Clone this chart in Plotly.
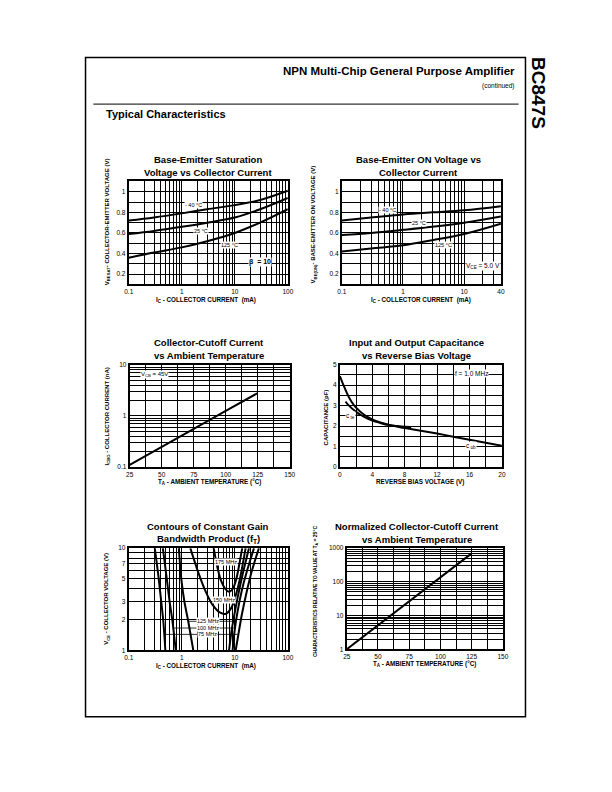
import numpy as np
import plotly.graph_objects as go

W, H = 612, 792
FONT = "Liberation Sans"

# ---------------- data ----------------
# 1: Base-Emitter saturation voltage vs collector current
vsat_ic = [0.1, 0.3, 1, 3, 10, 30, 100]
vsat_m40 = [0.72, 0.75, 0.79, 0.83, 0.87, 0.92, 1.01]
vsat_25 = [0.59, 0.62, 0.66, 0.70, 0.75, 0.83, 0.94]
vsat_125 = [0.36, 0.41, 0.46, 0.52, 0.60, 0.70, 0.83]

# 2: Base-Emitter ON voltage vs collector current
von_ic = [0.1, 0.3, 1, 3, 10, 40]
von_m40 = [0.72, 0.75, 0.78, 0.80, 0.82, 0.86]
von_25 = [0.58, 0.60, 0.63, 0.66, 0.70, 0.76]
von_125 = [0.42, 0.45, 0.48, 0.53, 0.59, 0.69]

# 3: Collector-cutoff current vs ambient temperature
icbo_t = [25, 50, 75, 100, 125]
icbo_na = [0.11, 0.25, 0.55, 1.25, 2.8]

# 4: Capacitance vs reverse bias
cob_v = [0, 0.5, 1, 1.5, 2, 3, 4, 5, 6, 7, 8, 10, 12, 14, 16, 18, 20]
cob_pf = [4.45, 3.95, 3.5, 3.15, 2.9, 2.55, 2.33, 2.18, 2.07, 1.98, 1.9, 1.77, 1.63, 1.48, 1.33, 1.18, 1.03]
cte_v = [0.7, 1, 2, 3, 4, 5, 6, 7, 8, 8.8]
cte_pf = [3.2, 3.05, 2.7, 2.45, 2.27, 2.15, 2.05, 2.0, 1.96, 1.95]

# 5: Contours of constant fT (Ic in mA, Vce in V)
ft75_l_ic = [0.31, 0.36, 0.41, 0.45, 0.49]
ft75_l_v = [10, 5.5, 3.0, 1.9, 1]
ft100_l_ic = [0.44, 0.51, 0.59, 0.67, 0.77]
ft100_l_v = [10, 5.5, 3.0, 1.9, 1]
ft125_l_ic = [0.88, 0.98, 1.12, 1.33, 1.65]
ft125_l_v = [10, 5.0, 3.0, 1.9, 1]
ft150_ic = [1.45, 2.0, 2.8, 3.8, 5.2, 6.8, 8.6, 10.5, 12.5, 16.0]
ft150_v = [10, 6, 3.8, 2.8, 2.35, 2.28, 2.6, 3.5, 5.0, 10]
ft175_ic = [4.0, 4.6, 5.5, 6.6, 7.8, 9.2, 10.7, 12.2, 13.8]
ft175_v = [10, 6.8, 4.8, 4.0, 3.75, 4.0, 5.0, 7.0, 10]
ft125_r_ic = [7.8, 8.6, 9.6, 11.2, 14.0, 18.5]
ft125_r_v = [1, 1.5, 2.1, 3.2, 5.5, 10]
ft100_r_ic = [9.1, 10.0, 11.3, 13.5, 17.0, 23.0]
ft100_r_v = [1, 1.6, 2.4, 3.8, 6.0, 10]
ft75_r_ic = [10.4, 11.7, 13.5, 16.5, 21.0, 28.5]
ft75_r_v = [1, 1.43, 2.2, 3.6, 6.0, 10]

# 6: Normalized collector-cutoff current
norm_t = [25, 50, 75, 100, 125]
norm_val = [1, 5.1, 26, 136, 700]

# tick / grid definitions
log_decade = lambda a, b: [m * 10 ** d for d in range(a, b) for m in range(1, 10)] + [10 ** b]
grid_ic100 = log_decade(-1, 2)
lab_ic100 = {0.1: "0.1", 1: "1", 10: "10", 100: "100"}
grid_ic40 = [g for g in log_decade(-1, 2) if g <= 40]
lab_ic40 = {0.1: "0.1", 1: "1", 10: "10", 40: "40"}
grid_v11 = [round(0.1 * i, 1) for i in range(1, 12)]
lab_v11 = {0.2: "0.2", 0.4: "0.4", 0.6: "0.6", 0.8: "0.8", 1.0: "1"}
grid_temp = [25 + 12.5 * i for i in range(11)]
lab_temp = {25: "25", 50: "50", 75: "75", 100: "100", 125: "125", 150: "150"}
grid_na = log_decade(-1, 1)
lab_na = {0.1: "0.1", 1: "1", 10: "10"}
grid_vr = list(range(0, 21, 2))
lab_vr = {0: "0", 4: "4", 8: "8", 12: "12", 16: "16", 20: "20"}
grid_pf = [0.5 * i for i in range(11)]
lab_pf = {0: "0", 1: "1", 2: "2", 3: "3", 4: "4", 5: "5"}
grid_vce = log_decade(0, 1)
lab_vce = {1: "1", 2: "2", 3: "3", 5: "5", 7: "7", 10: "10"}
grid_norm = log_decade(0, 3)
lab_norm = {1: "1", 10: "10", 100: "100", 1000: "1000"}


def px(x):
    return x / W


def py(y):
    return 1 - y / H


def lab(vals, labels):
    out = []
    for v in vals:
        t = ""
        for k, s in labels.items():
            if abs(v - k) < 1e-9 * max(1, abs(k)):
                t = s
        out.append(t)
    return out


def axis(l, r, typ, rng, grid, labels, side):
    d = dict(
        type=typ, range=rng, tickmode="array", tickvals=grid, ticktext=lab(grid, labels),
        showgrid=True, gridcolor="black", gridwidth=1, showline=True, mirror=True,
        linecolor="black", linewidth=2, ticks="", zeroline=False, fixedrange=True,
        tickfont=dict(family=FONT, size=6.5, color="black"), ticklen=0,
    )
    if side == "x":
        d["domain"] = [px(l), px(r)]
    else:
        d["domain"] = [py(r), py(l)]
    return d


# plot-area boxes (pixels): left, right, top, bottom
boxes = [
    (126, 288, 179, 283),
    (343, 505, 179, 283),
    (127, 290, 364, 467),
    (341, 506, 364, 467),
    (126, 288, 549, 652),
    (348, 507, 549, 651),
]

fig = go.Figure()


def add(x, y, n, shape="spline", smoothing=1.0):
    fig.add_trace(go.Scatter(x=x, y=y, mode="lines",
                             line=dict(color="black", width=2, shape=shape,
                                       smoothing=smoothing if shape == "spline" else None),
                             xaxis="x" if n == 1 else f"x{n}", yaxis="y" if n == 1 else f"y{n}",
                             hoverinfo="skip", showlegend=False))


for ys in (vsat_m40, vsat_25, vsat_125):
    add(vsat_ic, ys, 1)
for ys in (von_m40, von_25, von_125):
    add(von_ic, ys, 2)
add(icbo_t, icbo_na, 3, "linear")
add(cob_v, cob_pf, 4)
add(cte_v, cte_pf, 4)
for xs, ys in ((ft75_l_ic, ft75_l_v), (ft100_l_ic, ft100_l_v), (ft125_l_ic, ft125_l_v),
               (ft150_ic, ft150_v), (ft175_ic, ft175_v), (ft125_r_ic, ft125_r_v),
               (ft100_r_ic, ft100_r_v), (ft75_r_ic, ft75_r_v)):
    add(xs, ys, 5, "spline", 0.7)
add(norm_t, norm_val, 6, "linear")

lg = np.log10
layout_axes = {}
specs = [
    ("log", [lg(0.1), lg(100)], grid_ic100, lab_ic100, "linear", [0.1, 1.1], grid_v11, lab_v11),
    ("log", [lg(0.1), lg(40)], grid_ic40, lab_ic40, "linear", [0.1, 1.1], grid_v11, lab_v11),
    ("linear", [25, 150], grid_temp, lab_temp, "log", [-1, 1], grid_na, lab_na),
    ("linear", [0, 20], grid_vr, lab_vr, "linear", [0, 5], grid_pf, lab_pf),
    ("log", [-1, 2], grid_ic100, lab_ic100, "log", [0, 1], grid_vce, lab_vce),
    ("linear", [25, 150], grid_temp, lab_temp, "log", [0, 3], grid_norm, lab_norm),
]
for i, (b, s) in enumerate(zip(boxes, specs)):
    n = i + 1
    xk = "xaxis" if n == 1 else f"xaxis{n}"
    yk = "yaxis" if n == 1 else f"yaxis{n}"
    xa = axis(b[0], b[1], s[0], s[1], s[2], s[3], "x")
    ya = axis(b[2], b[3], s[4], s[5], s[6], s[7], "y")
    xa["anchor"] = "y" if n == 1 else f"y{n}"
    ya["anchor"] = "x" if n == 1 else f"x{n}"
    layout_axes[xk] = xa
    layout_axes[yk] = ya

ann = []


def page_text(x, y, text, size, xanchor="center", bold=False, angle=0):
    ann.append(dict(xref="paper", yref="paper", x=px(x), y=py(y), text=f"<b>{text}</b>" if bold else text,
                    showarrow=False, xanchor=xanchor, yanchor="middle", textangle=angle,
                    borderpad=0, font=dict(family=FONT, size=size, color="black")))


def data_text(n, x, y, text, size=5.5, bg="white", bold=False):
    ann.append(dict(xref="x" if n == 1 else f"x{n}", yref="y" if n == 1 else f"y{n}", x=x, y=y,
                    text=f"<b>{text}</b>" if bold else text, showarrow=False, bgcolor=bg,
                    borderpad=0, font=dict(family=FONT, size=size, color="black")))


# header
page_text(520, 68, "NPN Multi-Chip General Purpose Amplifier", 11.5, "right", True)
page_text(520, 83, "(continued)", 6.5, "right")
page_text(102, 111, "Typical Characteristics", 11, "left", True)
page_text(544, 90, "BC847S", 19, "center", True, 90)

# chart titles
titles = [
    (207, 157, 170, "Base-Emitter Saturation", "Voltage vs Collector Current"),
    (421, 157, 170, "Base-Emitter ON Voltage vs", "Collector Current"),
    (208, 342, 355, "Collector-Cutoff Current", "vs Ambient Temperature"),
    (419, 342, 355, "Input and Output Capacitance", "vs Reverse Bias Voltage"),
    (207, 527, 540, "Contours of Constant Gain", "Bandwidth Product (f<sub>T</sub>)"),
    (420, 527, 540, "Normalized Collector-Cutoff Current", "vs Ambient Temperature"),
]
for cx, y1, y2, t1, t2 in titles:
    page_text(cx, y1, t1, 9.5, "center", True)
    page_text(cx, y2, t2, 9.5, "center", True)

# axis titles
xt = [
    (205, 299, "I<sub>C</sub> - COLLECTOR CURRENT  (mA)"),
    (424, 299, "I<sub>C</sub> - COLLECTOR CURRENT  (mA)"),
    (208, 482, "T<sub>A</sub> - AMBIENT TEMPERATURE (°C)"),
    (423, 482, "REVERSE BIAS VOLTAGE (V)"),
    (205, 668, "I<sub>C</sub> - COLLECTOR CURRENT  (mA)"),
    (427, 666, "T<sub>A</sub> - AMBIENT TEMPERATURE (°C)"),
]
for x, y, t in xt:
    page_text(x, y, t, 6.3, "center", True)
yt = [
    (104, 220, "V<sub>BESAT</sub>- COLLECTOR-EMITTER VOLTAGE (V)", 6.0),
    (314, 222, "V<sub>BE(ON)</sub>- BASE-EMITTER ON VOLTAGE (V)", 6.0),
    (104, 416, "I<sub>CBO</sub> - COLLECTOR CURRENT (nA)", 6.0),
    (327, 417, "CAPACITANCE (pF)", 6.0),
    (104, 600, "V<sub>CE</sub> - COLLECTOR VOLTAGE (V)", 6.0),
    (316, 593, "CHARACTERISTICS RELATIVE TO VALUE AT T<sub>A</sub> = 25°C", 5.0),
]
for x, y, t, s in yt:
    page_text(x, y, t, s, "center", True, -90)

# curve labels
data_text(1, lg(1.64), 0.87, "- 40 °C")
data_text(1, lg(2.33), 0.62, "25 °C")
data_text(1, lg(7.8), 0.48, "125 °C")
data_text(1, lg(30), 0.32, "β  = 10", 7, bold=True)
data_text(2, lg(0.56), 0.82, "- 40 °C")
data_text(2, lg(1.82), 0.70, "25 °C")
data_text(2, lg(4.6), 0.48, "125 °C")
data_text(2, lg(20), 0.275, "V<sub>CE</sub> = 5.0 V", 6.5)
data_text(3, 44, lg(6.4), "V<sub>CB</sub> = 45V", 6)
data_text(4, 16.3, 4.58, "f = 1.0 MHz", 6.5)
data_text(4, 1.25, 2.5, "c<sub> te</sub>", 6.5)
data_text(4, 16.2, 1.03, "c<sub> ob</sub>", 6.5)
data_text(5, lg(6.8), lg(7.3), "175 MHz")
data_text(5, lg(6.3), lg(3.1), "150 MHz")
data_text(5, lg(3.1), lg(1.92), "125 MHz")
data_text(5, lg(3.1), lg(1.65), "100 MHz")
data_text(5, lg(3.1), lg(1.43), "75 MHz")

shapes = [
    dict(type="rect", xref="paper", yref="paper", x0=px(82), x1=px(530), y0=py(719), y1=py(54),
         line=dict(color="black", width=1.5)),
    dict(type="line", xref="paper", yref="paper", x0=px(90), x1=px(523), y0=py(101), y1=py(101),
         line=dict(color="black", width=1)),
]
# leader lines for fT contour labels (data coords)
for (xa, xb, yv) in ((1.33, 2.0, 1.92), (4.9, 9.5, 1.92), (0.70, 2.0, 1.65), (4.9, 10.2, 1.65),
                     (0.47, 2.1, 1.43), (4.6, 11.7, 1.43)):
    shapes.append(dict(type="line", xref="x5", yref="y5", x0=xa, x1=xb, y0=yv, y1=yv,
                       line=dict(color="black", width=0.8)))
shapes.append(dict(type="line", xref="x4", yref="y4", x0=1.9, x1=2.6, y0=2.55, y1=2.55,
                   line=dict(color="black", width=0.8)))

fig.update_layout(
    width=W, height=H, margin=dict(l=0, r=0, t=0, b=0), paper_bgcolor="white",
    plot_bgcolor="white", showlegend=False, hovermode=False,
    annotations=ann, shapes=shapes, **layout_axes,
)
fig.write_html("out.html")
